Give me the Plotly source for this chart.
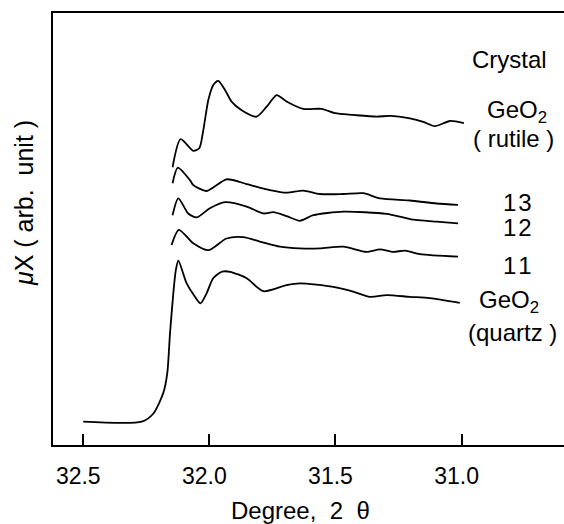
import plotly.graph_objects as go

# ---- data (absorption in arbitrary units) ----
rutile_x = [32.146, 32.114, 32.064, 32.040, 32.024, 32.004, 31.985, 31.965, 31.938, 31.912,
            31.872, 31.813, 31.773, 31.733, 31.694, 31.628, 31.555, 31.502, 31.430, 31.337,
            31.284, 31.205, 31.152, 31.106, 31.046, 30.991]
rutile_y = [6.43, 7.08, 6.81, 6.87, 7.29, 7.99, 8.33, 8.43, 8.22, 7.95,
            7.75, 7.60, 7.83, 8.10, 7.95, 7.78, 7.78, 7.68, 7.64, 7.60,
            7.62, 7.56, 7.48, 7.38, 7.50, 7.45]

c13_x = [32.146, 32.125, 32.077, 32.064, 32.011, 31.932, 31.852, 31.760, 31.694, 31.628,
         31.562, 31.469, 31.390, 31.324, 31.205, 31.099, 31.014]
c13_y = [6.06, 6.42, 6.13, 6.02, 5.88, 6.15, 6.04, 5.90, 5.84, 5.89,
         5.81, 5.81, 5.83, 5.71, 5.66, 5.59, 5.56]

c12_x = [32.146, 32.123, 32.084, 32.050, 31.998, 31.938, 31.852, 31.786, 31.747, 31.694,
         31.641, 31.588, 31.469, 31.297, 31.205, 31.099, 31.014]
c12_y = [5.32, 5.71, 5.36, 5.27, 5.48, 5.62, 5.52, 5.36, 5.39, 5.30,
         5.19, 5.32, 5.40, 5.35, 5.23, 5.17, 5.13]

c11_x = [32.150, 32.121, 32.064, 32.004, 31.932, 31.866, 31.800, 31.720, 31.641, 31.562,
         31.469, 31.377, 31.324, 31.271, 31.225, 31.165, 31.014]
c11_y = [4.63, 4.98, 4.67, 4.51, 4.78, 4.81, 4.71, 4.59, 4.55, 4.55,
         4.59, 4.47, 4.53, 4.47, 4.50, 4.42, 4.36]

quartz_x = [32.500, 32.268, 32.222, 32.183, 32.167, 32.156, 32.143, 32.133, 32.123, 32.090,
            32.057, 32.035, 32.011, 31.985, 31.951, 31.918, 31.852, 31.786, 31.694, 31.641,
            31.509, 31.430, 31.364, 31.297, 31.205, 31.126, 31.007]
quartz_y = [0.54, 0.54, 0.73, 1.20, 1.66, 2.59, 3.51, 4.05, 4.27, 3.74,
            3.43, 3.28, 3.51, 3.86, 4.01, 4.01, 3.86, 3.56, 3.70, 3.74,
            3.66, 3.55, 3.43, 3.47, 3.43, 3.40, 3.29]

tick_vals = [32.5, 32.0, 31.5, 31.0]
tick_text = ["32.5", "32.0", "31.5", "31.0"]

series = [
    (rutile_x, rutile_y),
    (c13_x, c13_y),
    (c12_x, c12_y),
    (c11_x, c11_y),
    (quartz_x, quartz_y),
]

FONT = "Liberation Sans"
W, H = 564, 524
ML, MR, MT, MB = 53, 0, 13, 79
PW, PH = W - ML - MR, H - MT - MB


def px(xp, yp):
    return (xp - ML) / PW, (H - MB - yp) / PH


fig = go.Figure()
for xs, ys in series:
    fig.add_trace(go.Scatter(x=xs, y=ys, mode="lines",
                             line=dict(color="black", width=1.8, shape="spline", smoothing=0.7),
                             showlegend=False, hoverinfo="skip", cliponaxis=False))

labels = [
    ("Crystal", 509, 60),
    ("GeO<sub>2</sub>", 517, 112),
    ("( rutile )", 513, 138),
    ("1\u200a3", 517, 202),
    ("1\u200a2", 517, 227),
    ("1\u200a1", 517, 265),
    ("GeO<sub>2</sub>", 509, 302),
    ("(quartz )", 512, 332),
]
for t, xp, yp in labels:
    ax_, ay_ = px(xp, yp)
    fig.add_annotation(text=t, x=ax_, y=ay_, xref="paper", yref="paper",
                       xanchor="center", yanchor="middle", showarrow=False,
                       font=dict(family=FONT, size=24, color="black"))

# axis titles
tx, ty = px(300, 511)
fig.add_annotation(text="Degree,\u00a0\u00a02\u00a0\u00a0θ", x=tx, y=ty, xref="paper", yref="paper",
                   xanchor="center", yanchor="middle", showarrow=False,
                   font=dict(family=FONT, size=24, color="black"))
yx, yy = px(24, 203)
fig.add_annotation(text="<i>μ</i>X\u00a0(\u00a0arb.\u00a0\u00a0unit\u00a0)", x=yx, y=yy,
                   xref="paper", yref="paper",
                   xanchor="center", yanchor="middle", showarrow=False, textangle=-90,
                   font=dict(family=FONT, size=25, color="black"))

fig.update_layout(
    width=W, height=H,
    margin=dict(l=ML, r=MR, t=MT, b=MB, autoexpand=False),
    paper_bgcolor="white", plot_bgcolor="white",
    font=dict(family=FONT, size=23, color="black"),
    xaxis=dict(range=[32.620, 30.594], showgrid=False, zeroline=False,
               showline=True, linecolor="black", linewidth=2, mirror=True,
               ticks="inside", ticklen=11, tickwidth=2, tickcolor="black",
               tickvals=tick_vals, ticktext=tick_text,
               ticklabelstandoff=9, ticklabelshift=5, automargin=False,
               tickfont=dict(family=FONT, size=23, color="black")),
    yaxis=dict(range=[0, 10], showgrid=False, zeroline=False,
               showline=True, linecolor="black", linewidth=2, automargin=False,
               showticklabels=False, ticks=""),
)

fig.write_html("out.html", config={"displayModeBar": False, "staticPlot": True},
               post_script="document.body.style.margin='0';document.body.style.overflow='hidden';")
